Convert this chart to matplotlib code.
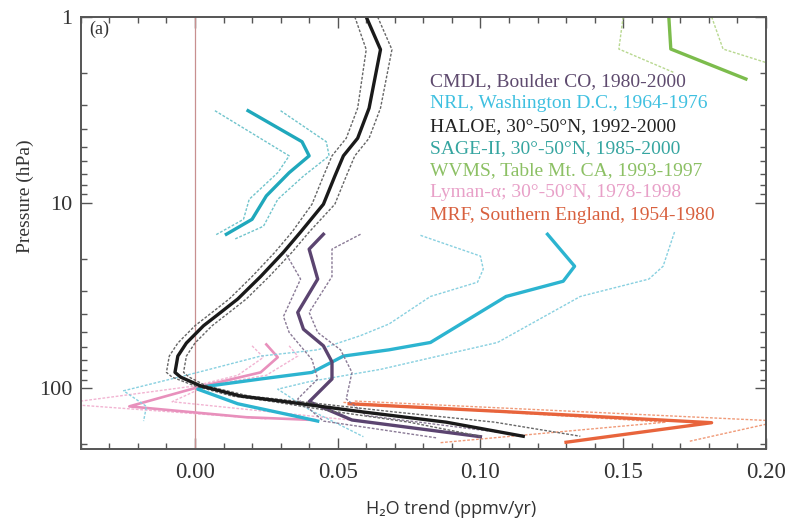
import matplotlib
matplotlib.use("Agg")
import matplotlib.pyplot as plt
from matplotlib.ticker import FixedLocator, MultipleLocator, NullFormatter, LogLocator

# --- data: (trend ppmv/yr, pressure hPa) ---
haloe_p = [1.0, 1.5, 3.1, 4.5, 5.6, 7.2, 10.2, 14.4, 18.5, 25, 33, 39, 46, 57, 67, 82, 87, 97, 110, 117, 134, 152, 181]
haloe_x = [0.060, 0.065, 0.061, 0.057, 0.052, 0.049, 0.045, 0.037, 0.031, 0.023, 0.015, 0.009, 0.003,
           -0.003, -0.006, -0.007, -0.005, 0.002, 0.016, 0.030, 0.059, 0.088, 0.115]
haloe_lo = [0.056, 0.060, 0.057, 0.053, 0.048, 0.045, 0.041, 0.034, 0.028, 0.020, 0.012, 0.006, 0.000,
            -0.006, -0.009, -0.010, -0.008, 0.000, 0.013, 0.026, 0.050, 0.075, 0.100]
haloe_hi = [0.064, 0.069, 0.065, 0.061, 0.056, 0.053, 0.049, 0.040, 0.034, 0.026, 0.018, 0.012, 0.006,
            0.000, -0.003, -0.004, -0.002, 0.004, 0.019, 0.035, 0.070, 0.105, 0.135]

cmdl_p = [14.8, 17.8, 25.8, 39, 48, 59, 72, 89, 114, 118, 148, 182]
cmdl_x = [0.045, 0.040, 0.043, 0.036, 0.038, 0.045, 0.048, 0.048, 0.041, 0.040, 0.055, 0.100]
cmdl_lo_p = [19, 25.8, 41, 50, 70, 89, 114, 150, 185]
cmdl_lo = [0.032, 0.037, 0.031, 0.033, 0.041, 0.043, 0.036, 0.045, 0.085]
cmdl_hi_p = [14.8, 17.8, 25, 39, 50, 62, 82, 114, 140, 175]
cmdl_hi = [0.058, 0.048, 0.048, 0.040, 0.043, 0.051, 0.055, 0.053, 0.060, 0.110]

nrl_p = [14.8, 22, 26.5, 32, 56.6, 62, 67, 82, 89, 98, 101, 121, 143, 150]
nrl_x = [0.1235, 0.133, 0.129, 0.109, 0.0825, 0.068, 0.052, 0.041, 0.023, 0.003, 0.001, 0.015, 0.037, 0.043]
nrl_lo_p = [15, 19.4, 22.8, 26.8, 32, 45, 52, 62, 67, 82, 103, 125, 150]
nrl_lo = [0.079, 0.100, 0.101, 0.099, 0.0825, 0.068, 0.058, 0.043, 0.023, 0.001, -0.025, -0.017, -0.018]
nrl_hi_p = [14.4, 22, 25.8, 32, 56.6, 79, 92, 101, 130, 182]
nrl_hi = [0.168, 0.164, 0.159, 0.135, 0.106, 0.065, 0.040, 0.029, 0.040, 0.059]

sage_p = [3.2, 4.7, 5.6, 6.9, 9.2, 12.3, 14.8]
sage_x = [0.0186, 0.0375, 0.040, 0.033, 0.025, 0.020, 0.011]
sage_lo_p = [3.2, 5.6, 6.9, 9.6, 12.3, 15]
sage_lo = [0.007, 0.033, 0.029, 0.019, 0.017, 0.007]
sage_hi_p = [3.2, 4.7, 5.6, 7.2, 9.6, 13.4, 15.7]
sage_hi = [0.030, 0.046, 0.047, 0.038, 0.029, 0.024, 0.014]

wvms_p = [1.0, 1.49, 2.16]
wvms_x = [0.166, 0.1667, 0.193]
wvms_lo_p = [1.0, 1.49, 2.0]
wvms_lo = [0.150, 0.1485, 0.168]
wvms_hi_p = [1.0, 1.49, 1.8]
wvms_hi = [0.181, 0.185, 0.202]

lyman_p = [58, 68, 82, 97.7, 125, 143, 148]
lyman_x = [0.025, 0.029, 0.023, 0.002, -0.023, 0.018, 0.042]
lyman_lo_p = [59, 68, 85, 97, 121, 146]
lyman_lo = [0.020, 0.024, 0.015, 0.000, -0.047, 0.025]
lyman_hi_p = [59, 67, 85, 97, 118, 150]
lyman_hi = [0.033, 0.036, 0.025, 0.004, -0.008, 0.058]

mrf_p = [121, 133, 153, 195]
mrf_x = [0.054, 0.107, 0.181, 0.130]
mrf_lo_p = [119, 152, 196]
mrf_lo = [0.052, 0.165, 0.086]
mrf_hi_p = [117, 150, 193]
mrf_hi = [0.056, 0.205, 0.173]

labels = ["CMDL, Boulder CO, 1980-2000", "NRL, Washington D.C., 1964-1976",
          "HALOE, 30\u00b0-50\u00b0N, 1992-2000", "SAGE-II, 30\u00b0-50\u00b0N, 1985-2000",
          "WVMS, Table Mt. CA, 1993-1997", "Lyman-\u03b1; 30\u00b0-50\u00b0N, 1978-1998",
          "MRF, Southern England, 1954-1980"]
label_colors = ["#5e4a6e", "#3fc0e0", "#222222", "#35a5a0", "#8cc064", "#e8a0c8", "#d8603e"]

plt.rcParams['font.family'] = ['Liberation Serif', 'DejaVu Serif']

fig = plt.figure(figsize=(7.92, 5.27), dpi=100)
ax = fig.add_axes([0.102, 0.148, 0.865, 0.820])

dot = (0, (2, 1.2))

def series(x, p, lo, lo_p, hi, hi_p, c, cb, lw=2.4):
    ax.plot(lo, lo_p, color=cb, lw=1.0, ls=dot)
    ax.plot(hi, hi_p, color=cb, lw=1.0, ls=dot)
    ax.plot(x, p, color=c, lw=lw)

ax.axvline(0, color="#c89090", lw=0.9)

series(mrf_x, mrf_p, mrf_lo, mrf_lo_p, mrf_hi, mrf_hi_p, "#e8643c", "#f09a78")
series(lyman_x, lyman_p, lyman_lo, lyman_lo_p, lyman_hi, lyman_hi_p, "#e890bc", "#f2b4d2", lw=1.9)
series(wvms_x, wvms_p, wvms_lo, wvms_lo_p, wvms_hi, wvms_hi_p, "#7cbc4c", "#b8d890")
series(sage_x, sage_p, sage_lo, sage_lo_p, sage_hi, sage_hi_p, "#1fa8bc", "#70c4cc")
series(nrl_x, nrl_p, nrl_lo, nrl_lo_p, nrl_hi, nrl_hi_p, "#2cb4d0", "#88d0e0")
series(cmdl_x, cmdl_p, cmdl_lo, cmdl_lo_p, cmdl_hi, cmdl_hi_p, "#5b4470", "#8a7a96")
series(haloe_x, haloe_p, haloe_lo, haloe_p, haloe_hi, haloe_p, "#1a1a1a", "#666666")

ax.set_yscale("log")
ax.set_ylim(212, 1)
ax.set_xlim(-0.04, 0.20)

ax.xaxis.set_major_locator(FixedLocator([0.0, 0.05, 0.10, 0.15, 0.20]))
ax.xaxis.set_minor_locator(MultipleLocator(0.01))
ax.set_xticklabels(["0.00", "0.05", "0.10", "0.15", "0.20"])
ax.yaxis.set_major_locator(FixedLocator([1, 10, 100]))
ax.yaxis.set_minor_locator(LogLocator(base=10, subs=range(2, 10)))
ax.yaxis.set_minor_formatter(NullFormatter())
ax.set_yticklabels(["1", "10", "100"])

ax.tick_params(which="both", direction="in", top=True, right=True, color="#555555",
               labelsize=16, labelcolor="#333333")
ax.tick_params(axis="x", labelsize=16.5)
ax.tick_params(which="major", length=8, width=1)
ax.tick_params(which="minor", length=4, width=1)
ax.tick_params(axis="x", pad=9)
ax.tick_params(axis="y", pad=6)
for s in ax.spines.values():
    s.set_color("#555555")
    s.set_linewidth(1.4)

ax.set_ylabel("Pressure (hPa)", fontsize=14, color="#333333")
ax.yaxis.set_label_coords(-0.068, 0.585)
ax.set_xlabel("H\u2082O trend (ppmv/yr)", fontsize=13, color="#333333",
              family=["Open Sans", "DejaVu Sans"])
ax.xaxis.set_label_coords(0.54, -0.118)

ax.text(0.013, 0.97, "(a)", transform=ax.transAxes, fontsize=13, color="#333333",
        va="center", ha="left")

for i, (t, c) in enumerate(zip(labels, label_colors)):
    ax.text(0.51, 0.85 - i * 0.0515, t, transform=ax.transAxes, fontsize=14,
            color=c, va="center", ha="left")

fig.savefig("out.png", dpi=100)
